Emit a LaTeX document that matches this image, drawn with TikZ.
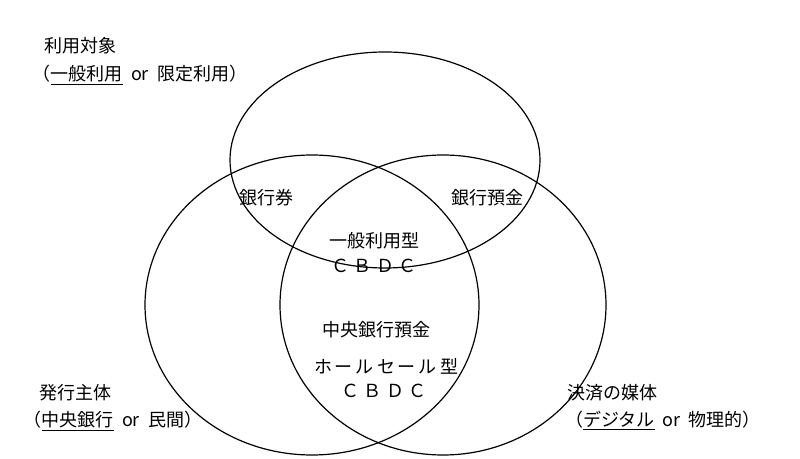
\documentclass[tikz,border=0pt]{standalone}
\usepackage{fontspec}
\setmainfont{Noto Sans CJK JP}
\begin{document}
\begin{tikzpicture}[x=0.75pt,y=0.75pt,yscale=-1,xscale=1,
  lbl/.style={font=\fontsize{13.5}{15}\selectfont, inner sep=0pt}]
\useasboundingbox (0,0) rectangle (800,459);

\draw[line width=0.9pt] (385,160) ellipse [x radius=155, y radius=108];
\draw[line width=0.9pt] (312,305) ellipse [x radius=167, y radius=150];
\draw[line width=0.9pt] (443,305) ellipse [x radius=163, y radius=150];

\node[lbl] (use) at (80,46) {利用対象};
\node[lbl] (usesub) at (140,75) {（\underline{一般利用}\ \ or\ \ 限定利用）};
\node[lbl] (issuer) at (75,393) {発行主体};
\node[lbl] (issuersub) at (113,421) {（\underline{中央銀行}\ \ or\ \ 民間）};
\node[lbl] (medium) at (612,393) {決済の媒体};
\node[lbl] (mediumsub) at (663,421) {（\underline{デジタル}\ \ or\ \ 物理的）};

\node[lbl] (note) at (266,198) {銀行券};
\node[lbl] (deposit) at (487,198) {銀行預金};
\node[lbl] (retail) at (374,241) {一般利用型};
\node[lbl] (retailcb) at (374,266) {Ｃ\ Ｂ\ Ｄ\ Ｃ};
\node[lbl] (reserve) at (376,330) {中央銀行預金};
\node[lbl] (whole) at (386,366) {ホ\,ー\,ル\,セ\,ー\,ル\,型};
\node[lbl] (wholecb) at (384,391) {Ｃ\ Ｂ\ Ｄ\ Ｃ};
\end{tikzpicture}
\end{document}
